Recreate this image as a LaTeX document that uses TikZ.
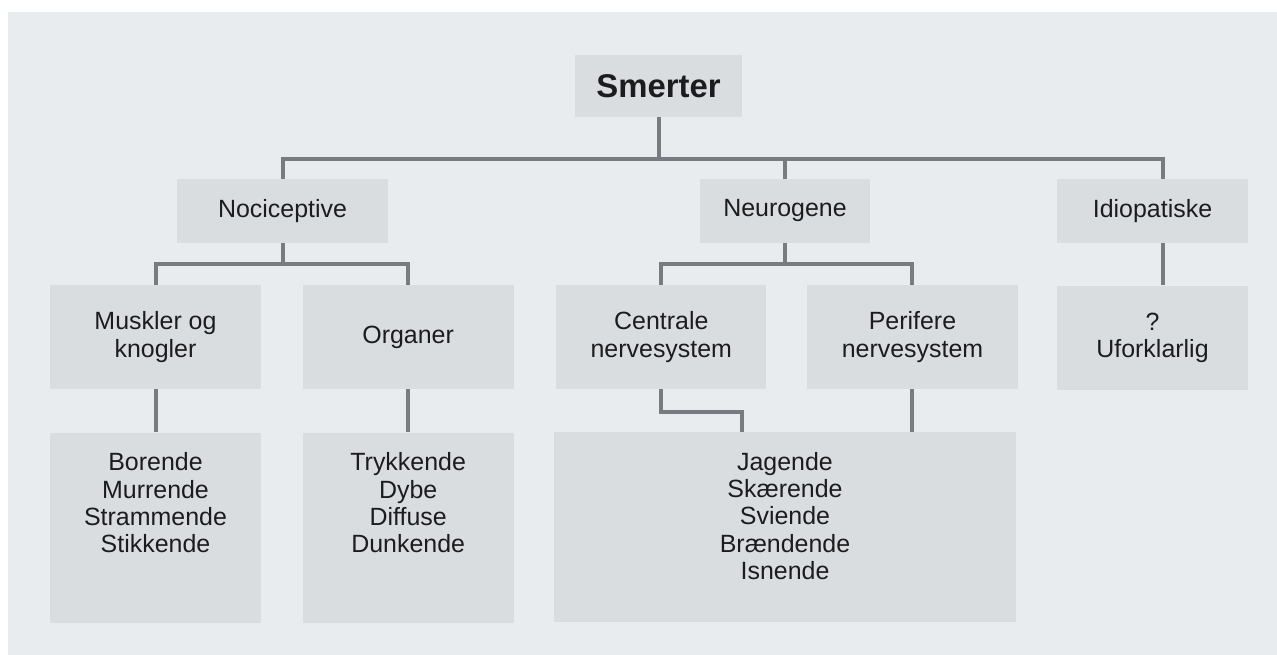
\documentclass[tikz,border=0pt]{standalone}
\usepackage{fontspec}
\setmainfont{Liberation Sans}
\usetikzlibrary{positioning}
\definecolor{panelgray}{HTML}{E9ECEF}
\definecolor{boxgray}{HTML}{DADDE0}
\definecolor{linegray}{HTML}{787C81}
\definecolor{textdark}{HTML}{1C1C1E}
\newcommand{\pu}{0.02cm}
\tikzstyle{link} = [draw=linegray, line width=0.08cm]

\begin{document}
\begin{tikzpicture}[
    x=\pu, y=-\pu,
    box/.style={rectangle, fill=boxgray, inner sep=0pt, align=center, text=textdark, font=\fontsize{14.2}{15.6}\selectfont},
    rootbox/.style={box, minimum width=3.34cm, minimum height=1.24cm, font=\fontsize{18.7}{20}\selectfont\bfseries},
    groupbox/.style={box, minimum height=1.28cm},
    typebox/.style={box, minimum width=4.22cm, minimum height=2.08cm},
    listbox/.style={box, minimum width=4.22cm, minimum height=3.8cm},
    listtext/.style={inner sep=0pt, align=center, text=textdark, font=\fontsize{14.2}{15.6}\selectfont}
]
    \useasboundingbox (0,0) rectangle (1277,655);
    \fill[white] (0,0) rectangle (1277,655);
    \fill[panelgray] (8,12) rectangle (1277,655);

    % Root
    \node[rootbox] (smerter) at (658.5,86) {Smerter};

    % Main groups
    \node[groupbox, minimum width=4.22cm] (noci) at (282.5,211) {Nociceptive};
    \node[groupbox, minimum width=3.4cm] (neuro) at (785,211) {Neurogene};
    \node[groupbox, minimum width=3.82cm] (idio) at (1152.5,211) {Idiopatiske};

    % Origin of the pain
    \node[typebox] (muskler) at (155.5,337) {Muskler og\\knogler};
    \node[typebox, right=0.82cm of muskler] (organer) {Organer};
    \node[typebox, minimum width=4.2cm, right=0.84cm of organer] (centrale) {Centrale\\nervesystem};
    \node[typebox, right=0.8cm of centrale] (perifere) {Perifere\\nervesystem};
    \node[typebox, minimum width=3.82cm, below=0.84cm of idio] (uforklar) {?\\Uforklarlig};

    % Character of the pain
    \node[listbox, below=0.86cm of muskler] (borende) {};
    \node[listbox, below=0.86cm of organer] (trykkende) {};
    \node[listbox, minimum width=9.24cm] (jagende) at (785,527) {};
    \node[listtext, below=0.4cm of borende.north] (borende_txt) {Borende\\Murrende\\Strammende\\Stikkende};
    \node[listtext, below=0.4cm of trykkende.north] (trykkende_txt) {Trykkende\\Dybe\\Diffuse\\Dunkende};
    \node[listtext, below=0.4cm of jagende.north] (jagende_txt) {Jagende\\Skærende\\Sviende\\Brændende\\Isnende};

    % Connections
    \coordinate (bar1) at (0,159);
    \coordinate (bar2) at (0,264);
    \draw[link] (smerter.south) -- (smerter.south |- bar1);
    \draw[link] (noci.north) |- ([xshift=0.2cm]idio.north |- bar1) -- ([xshift=0.2cm]idio.north);
    \draw[link] (neuro.north) -- (neuro.north |- bar1);

    \draw[link] (noci.south) -- (noci.south |- bar2);
    \draw[link] (muskler.north) |- (organer.north |- bar2) -- (organer.north);
    \draw[link] (neuro.south) -- (neuro.south |- bar2);
    \draw[link] (centrale.north) |- (perifere.north |- bar2) -- (perifere.north);
    \draw[link] ([xshift=0.2cm]idio.south) -- ([xshift=0.2cm]uforklar.north);

    \draw[link] (muskler.south) -- (borende.north);
    \draw[link] (organer.south) -- (trykkende.north);
    \draw[link] (centrale.south) -- ++(0,23) -| ([xshift=-0.86cm]jagende.north);
    \draw[link] (perifere.south) -- (perifere.south |- jagende.north);

\end{tikzpicture}
\end{document}
